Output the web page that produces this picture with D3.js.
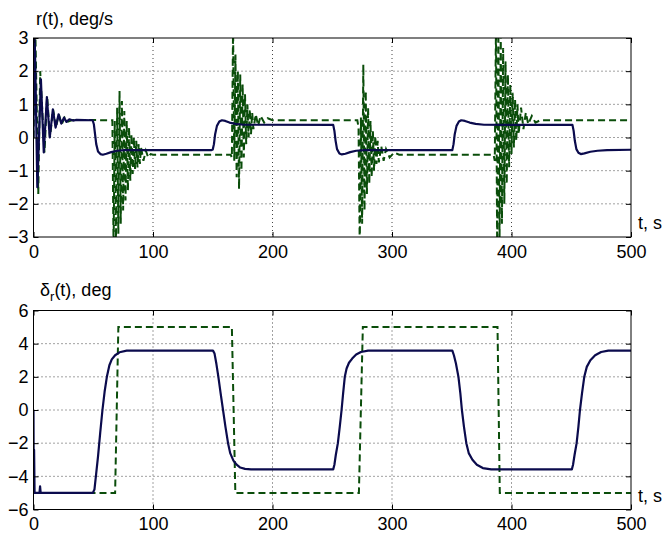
<!DOCTYPE html>
<html>
<head>
<meta charset="utf-8">
<script src="https://cdn.jsdelivr.net/npm/d3@7"></script>
<style>
  body { margin: 0; background: #fff; }
  svg { display: block; }
</style>
</head>
<body>
<div id="chart"></div>
<script>
const chart_width = 666;
const chart_height = 538;
const plot_left = 33.5;
const plot_right = 631;

const x_ticks = [0, 100, 200, 300, 400, 500];
const r_ticks = [-3, -2, -1, 0, 1, 2, 3];
const d_ticks = [-6, -4, -2, 0, 2, 4, 6];

// yaw rate, smooth controller (solid) : [t, r]
const r_smooth = [
  [0, 0], [0.7, 3.4], [1.6, 2.0], [3.2, -1.5], [6.2, 1.75], [8.6, -0.45], [11.2, 1.22],
  [13.6, 0.0], [16.2, 0.85], [18.5, 0.3], [21, 0.7], [23.2, 0.42], [25.5, 0.6], [27.6, 0.47],
  [30, 0.55], [33, 0.51], [36, 0.53], [49.5, 0.52],
  [50.5, 0.4], [51.5, 0.1], [52.5, -0.2], [54, -0.42], [56, -0.5], [58, -0.52], [61, -0.49],
  [65, -0.44], [70, -0.4], [76, -0.38], [149, -0.38],
  [150, -0.36], [151, -0.2], [152, 0.1], [153.5, 0.35], [155.5, 0.48], [157.7, 0.52], [160.5, 0.5],
  [164, 0.45], [169, 0.41], [176, 0.385], [250.8, 0.38],
  [251.8, 0.2], [252.8, -0.1], [254, -0.35], [256, -0.48], [258, -0.51], [261, -0.49],
  [265, -0.44], [270, -0.4], [277, -0.38], [350.5, -0.38],
  [351.5, -0.2], [352.5, 0.1], [354, 0.35], [356, 0.48], [358, 0.52], [361, 0.5],
  [365, 0.45], [370, 0.41], [377, 0.385], [451, 0.38],
  [452, 0.2], [453, -0.1], [454.3, -0.35], [456, -0.46], [458, -0.5], [461, -0.48],
  [466, -0.43], [472, -0.4], [480, -0.38], [500, -0.37]
];

// yaw rate, switching controller (dashed) : [t, r]
const r_switch = [
  [0, 0], [1.5, 3.3], [4, -1.7], [5.6, 2.0], [9.2, -0.45], [11.4, 1.25], [13.8, 0.0],
  [16.4, 0.85], [18.8, 0.3], [21.2, 0.7], [23.6, 0.4], [26, 0.6], [29, 0.48], [33, 0.53],
  [66, 0.52],
  [67, -3.3], [68, 0.5], [69, -3.2], [70, 0.9], [71, -2.9], [72, 1.4], [73, -2.6], [74, 1.1],
  [75, -2.2], [76, 0.8], [77, -1.9], [78, 0.5], [79, -1.6], [80, 0.3], [81, -1.3], [82, 0.1],
  [83, -1.1], [84, 0.0], [85, -0.95], [86, -0.1], [87, -0.9], [88, -0.2], [89, -0.8],
  [90, -0.3], [92, -0.7], [94, -0.4], [96, -0.6], [98, -0.5], [100, -0.52],
  [165, -0.52],
  [166, -0.6], [167, 3.3], [168, -0.7], [169, 2.5], [170, -1.2], [171, 2.0], [172, -1.55],
  [173, 1.9], [174, -1.0], [175, 1.6], [176, -0.6], [177, 1.3], [178, -0.2], [179, 1.0],
  [180, 0.0], [181, 0.85], [182, 0.1], [183, 0.75], [184, 0.25], [186, 0.7], [188, 0.35],
  [190, 0.65], [193, 0.45], [196, 0.58], [200, 0.52],
  [271, 0.52],
  [272, 0.3], [273, -3.3], [274, 0.6], [275, -2.6], [276, 2.2], [277, -2.2], [278, 1.4],
  [279, -1.7], [280, 0.9], [281, -1.4], [282, 0.5], [283, -1.2], [284, 0.2], [285, -1.0],
  [286, 0.05], [287, -0.8], [288, -0.1], [289, -0.75], [291, -0.25], [293, -0.7],
  [295, -0.35], [298, -0.6], [302, -0.45], [306, -0.52],
  [385, -0.52],
  [386, -0.7], [387, 3.3], [388, -3.3], [389, 3.3], [390, -3.1], [391, 3.1], [392, -2.6],
  [393, 2.7], [394, -2.0], [395, 2.3], [396, -1.4], [397, 1.9], [398, -0.9], [399, 1.6],
  [400, -0.5], [401, 1.35], [402, -0.3], [403, 1.15], [404, -0.1], [405, 1.0], [406, 0.1],
  [408, 0.9], [410, 0.25], [412, 0.75], [414, 0.4], [417, 0.65], [420, 0.45], [424, 0.52],
  [500, 0.52]
];

// rudder angle, smooth controller (solid) : [t, delta]
const d_smooth = [
  [0, 0], [0.2, -5], [0.5, -2.4], [0.9, -5], [5, -5], [5.5, -4.6], [6, -5],
  [49.6, -5], [51, -4.8], [52.2, -4.0], [54, -2.8], [55.8, -1.4], [57.7, 0], [59.5, 1.1],
  [61.4, 2.0], [63.5, 2.7], [65.5, 3.05], [68.3, 3.3], [72, 3.48], [78, 3.58],
  [150.2, 3.58], [151.5, 3.4], [153, 2.8], [154.7, 2.0], [156.6, 1.0], [158.6, 0],
  [160.6, -1.0], [162.8, -2.0], [164.6, -2.6], [167.3, -3.05], [170, -3.3], [173, -3.47],
  [177, -3.55], [182, -3.58],
  [250.8, -3.58], [251.8, -3.3], [253, -2.7], [254.7, -2.0], [256.3, -1.0], [257.8, 0],
  [259.1, 1.0], [260.5, 2.0], [262, 2.5], [264, 2.85], [266.7, 3.1], [270, 3.35],
  [274, 3.5], [280, 3.58],
  [350.5, 3.58], [351.8, 3.3], [353.5, 2.8], [355.6, 2.0], [357.2, 1.0], [358.5, 0],
  [360.2, -1.0], [362.2, -2.0], [364.2, -2.6], [367.3, -3.0], [371, -3.3], [376, -3.5],
  [383, -3.58],
  [450.5, -3.58], [451.5, -3.3], [452.8, -2.7], [454.5, -2.0], [456, -1.0], [457.3, 0],
  [459, 1.0], [460.9, 2.0], [463, 2.6], [466, 3.0], [470, 3.3], [475, 3.5], [481, 3.58],
  [500, 3.58]
];

// rudder angle, switching controller (dashed) : [t, delta]
const d_switch = [
  [0, -5], [68.3, -5], [71, 5], [166, 5], [168.9, -5], [272.3, -5], [275.6, 5],
  [388.3, 5], [390.2, -5], [500, -5]
];

const svg = d3.select("#chart")
  .append("svg")
  .attr("width", chart_width)
  .attr("height", chart_height);

const x = d3.scaleLinear().domain([0, 500]).range([plot_left, plot_right]);
const fmt = d3.format("d");

function drawPanel(id, top, bottom, yDomain, yTicks, solid, dashed) {
  const y = d3.scaleLinear().domain(yDomain).range([bottom, top]);
  const g = svg.append("g");

  g.append("clipPath").attr("id", id)
    .append("rect")
    .attr("x", plot_left).attr("y", top)
    .attr("width", plot_right - plot_left).attr("height", bottom - top);

  // dotted grid
  g.selectAll(".vgrid")
    .data(x_ticks.slice(1, -1))
    .join("line")
    .attr("x1", d => x(d)).attr("x2", d => x(d))
    .attr("y1", top).attr("y2", bottom)
    .attr("stroke", "#444").attr("stroke-width", 1)
    .attr("stroke-dasharray", "1,3");

  g.selectAll(".hgrid")
    .data(yTicks.slice(1, -1))
    .join("line")
    .attr("x1", plot_left).attr("x2", plot_right)
    .attr("y1", d => y(d)).attr("y2", d => y(d))
    .attr("stroke", "#444").attr("stroke-width", 1)
    .attr("stroke-dasharray", "1,3");

  const line = d3.line().x(d => x(d[0])).y(d => y(d[1]));

  g.append("path")
    .datum(dashed)
    .attr("clip-path", `url(#${id})`)
    .attr("d", line)
    .attr("fill", "none")
    .attr("stroke", "#0a4d0a")
    .attr("stroke-width", 2)
    .attr("stroke-dasharray", "7,4");

  g.append("path")
    .datum(solid)
    .attr("clip-path", `url(#${id})`)
    .attr("d", line)
    .attr("fill", "none")
    .attr("stroke", "#0b0b4d")
    .attr("stroke-width", 2.2)
    .attr("stroke-linejoin", "round");

  // axes with inward ticks
  const axes = [
    [d3.axisBottom(x).tickValues(x_ticks).tickSize(-5).tickPadding(8).tickFormat(fmt), `translate(0,${bottom})`],
    [d3.axisTop(x).tickValues(x_ticks).tickSize(-5).tickFormat(""), `translate(0,${top})`],
    [d3.axisLeft(y).tickValues(yTicks).tickSize(-5).tickPadding(5).tickFormat(fmt), `translate(${plot_left},0)`],
    [d3.axisRight(y).tickValues(yTicks).tickSize(-5).tickFormat(""), `translate(${plot_right},0)`]
  ];
  axes.forEach(([ax, tr]) => {
    const a = g.append("g").attr("transform", tr).call(ax);
    a.select(".domain").remove();
    a.selectAll("line").attr("stroke", "#000");
    a.selectAll("text")
      .attr("fill", "#000")
      .style("font-family", "'Liberation Sans', Arial, sans-serif")
      .style("font-size", "18px");
  });

  g.append("rect")
    .attr("x", plot_left).attr("y", top)
    .attr("width", plot_right - plot_left).attr("height", bottom - top)
    .attr("fill", "none").attr("stroke", "#000").attr("stroke-width", 1);

  g.append("text")
    .attr("x", 638).attr("y", bottom - 8)
    .style("font-family", "'Liberation Sans', Arial, sans-serif")
    .style("font-size", "18px")
    .text("t, s");

  return g;
}

drawPanel("clipTop", 38, 237, [-3, 3], r_ticks, r_smooth, r_switch);
drawPanel("clipBottom", 310.5, 509.5, [-6, 6], d_ticks, d_smooth, d_switch);

svg.append("text")
  .attr("x", 36).attr("y", 25)
  .style("font-family", "'Liberation Sans', Arial, sans-serif")
  .style("font-size", "18px")
  .text("r(t), deg/s");

const sub = svg.append("text")
  .attr("x", 40).attr("y", 296)
  .style("font-family", "'Liberation Sans', Arial, sans-serif")
  .style("font-size", "18px");
sub.append("tspan").text("δ");
sub.append("tspan").attr("dy", 5).style("font-size", "13px").text("r");
sub.append("tspan").attr("dy", -5).text("(t), deg");
</script>
</body>
</html>
